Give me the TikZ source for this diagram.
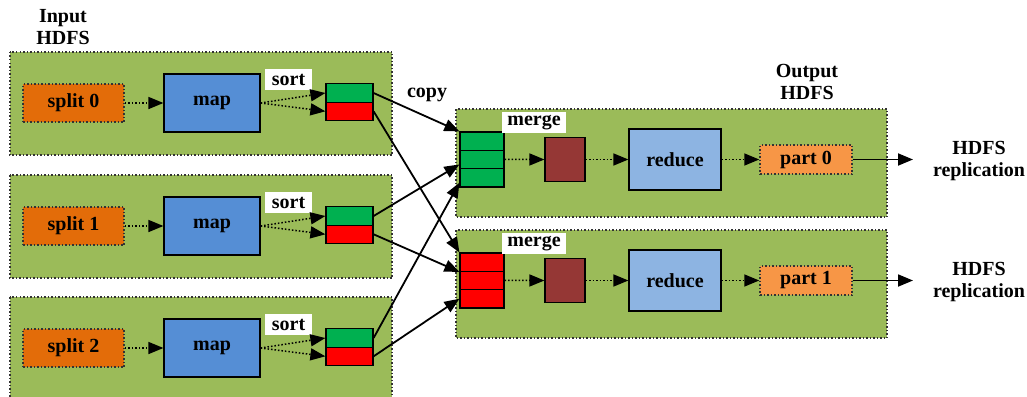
\documentclass[tikz,border=0pt]{standalone}
\usepackage{fontspec}
\setmainfont{Liberation Serif}
\usetikzlibrary{arrows.meta}

\definecolor{boxgreen}{RGB}{155,187,89}
\definecolor{splitorange}{RGB}{227,108,9}
\definecolor{mapblue}{RGB}{85,142,213}
\definecolor{cellgreen}{RGB}{0,176,80}
\definecolor{cellred}{RGB}{255,0,0}
\definecolor{mergebrown}{RGB}{149,55,53}
\definecolor{reduceblue}{RGB}{141,180,226}
\definecolor{partorange}{RGB}{247,150,70}

\begin{document}
\begin{tikzpicture}[x=1pt,y=-1pt,font=\fontsize{20}{22}\selectfont\bfseries,
	tip/.style={-{Triangle[length=15pt,width=12pt]}},
	group/.style={draw=black!80,dotted,line width=1.5pt,fill=boxgreen},
	split/.style={draw=black!80,dotted,line width=1.5pt,fill=splitorange,minimum width=101pt,minimum height=38pt},
	mapbox/.style={draw,line width=1.2pt,fill=mapblue,minimum width=96pt,minimum height=58pt},
	labelbox/.style={fill=white,inner sep=1pt,minimum height=21pt},
	cell/.style={draw,line width=1.2pt,minimum width=47pt,minimum height=18.3pt,inner sep=0pt},
	mergebox/.style={draw,line width=1.2pt,fill=mergebrown,minimum width=40pt,minimum height=44pt},
	reducebox/.style={draw,line width=1.2pt,fill=reduceblue,minimum width=92pt,minimum height=61pt},
	part/.style={draw=black!80,dotted,line width=1.5pt,fill=partorange,minimum width=92pt,minimum height=29pt},
	flow/.style={dotted,line width=1.5pt,tip},
	copy/.style={line width=1.8pt,tip}]
	\useasboundingbox (0,0) rectangle (1027,396);

	\node[align=center] (input) at (63,27) {Input\\HDFS};
	\node[align=center] (output) at (807,82) {Output\\HDFS};
	\node (copylabel) at (427,95) {copy};

	\foreach \i/\y in {0/0,1/123,2/245} {
		\draw[group] (10,{52+\y}) rectangle (392,{155+\y});
		\node[split] (split\i) at (73.5,{103+\y}) {split \i};
		\node[mapbox] (map\i) at (212,{103+\y}) {map};
		\node[labelbox,minimum width=47pt] (sort\i) at (288.5,{79.5+\y}) {sort};
		\node[cell,fill=cellgreen] (g\i) at (349.5,{93+\y}) {};
		\node[cell,fill=cellred] (r\i) at (349.5,{111.3+\y}) {};
		\draw[flow] (split\i) -- (map\i);
		\draw[flow] (map\i.east) -- (g\i.west);
		\draw[flow] (map\i.east) -- (r\i.west);
	}

	\foreach \j/\y/\c in {0/0/cellgreen,1/121/cellred} {
		\draw[group] (456,{109+\y}) rectangle (887,{217+\y});
		\foreach \k in {1,2,3}
			\node[cell,minimum width=44pt,fill=\c] (m\j\k) at (482,{122.85+\k*18.3+\y}) {};
		\node[labelbox,minimum width=64pt] (merge\j) at (534,{122.5+\y}) {merge};
		\node[mergebox] (mb\j) at (565,{159.5+\y}) {};
		\node[reducebox] (red\j) at (675,{159.5+\y}) {reduce};
		\node[part] (part\j) at (806,{159.5+\y}) {part \j};
		\node[align=center] (hdfs\j) at (979,{161+\y}) {HDFS\\replication};
		\coordinate (rep\j) at (913,{159.5+\y});
		\draw[flow] (m\j2) -- (mb\j);
		\draw[flow] (mb\j) -- (red\j);
		\draw[flow] (red\j) -- (part\j);
		\draw[copy] (part\j) -- (rep\j);
	}

	\draw[copy] (g0.east) -- (m01.north west);
	\draw[copy] (g1.east) -- ([yshift=-5pt]m02.west);
	\draw[copy] (g2.east) -- ([yshift=-5pt]m03.west);
	\draw[copy] (r0.east) -- (m11.north west);
	\draw[copy] (r1.east) -- (m11.south west);
	\draw[copy] (r2.east) -- (m13.west);
\end{tikzpicture}
\end{document}
